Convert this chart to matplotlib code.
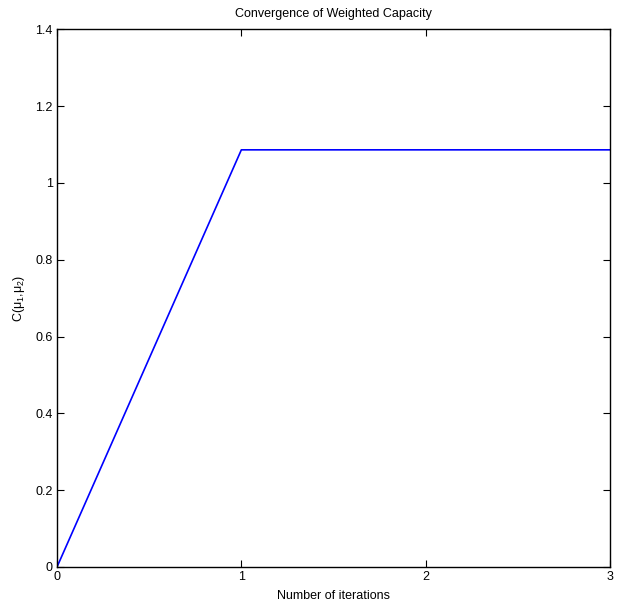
import matplotlib
matplotlib.use("Agg")
import matplotlib.pyplot as plt

# data
iterations = [0, 1, 2, 3]
capacity = [0.0, 1.086, 1.086, 1.086]

x_ticks = [0, 1, 2, 3]
y_ticks = [0, 0.2, 0.4, 0.6, 0.8, 1, 1.2, 1.4]
y_tick_labels = ["0", "0.2", "0.4", "0.6", "0.8", "1", "1.2", "1.4"]

plt.rcParams["font.family"] = ["Liberation Sans", "DejaVu Sans"]
plt.rcParams["font.size"] = 9
plt.rcParams["mathtext.fontset"] = "custom"
plt.rcParams["mathtext.rm"] = "Liberation Sans"
plt.rcParams["mathtext.it"] = "Liberation Sans"

fig = plt.figure(figsize=(6.17, 6.09), dpi=100)
ax = fig.add_axes([0.0924, 0.069, 0.8963, 0.883])

ax.plot(iterations, capacity, color="#0000ff", linewidth=1.2)

ax.set_xlim(0, 3)
ax.set_ylim(0, 1.4)
ax.set_xticks(x_ticks)
ax.set_yticks(y_ticks)
ax.set_yticklabels(y_tick_labels)
ax.tick_params(direction="in", top=True, right=True, length=5, width=0.8,
               labelsize=9, pad=3)
for s in ax.spines.values():
    s.set_linewidth(1.0)

ax.set_title("Convergence of Weighted Capacity", fontsize=9, pad=9)
ax.set_xlabel("Number of iterations", fontsize=9, labelpad=5)
ax.set_ylabel(r"C($\mu_1$,$\mu_2$)", fontsize=9, labelpad=6)

fig.savefig("out.png", dpi=100)
